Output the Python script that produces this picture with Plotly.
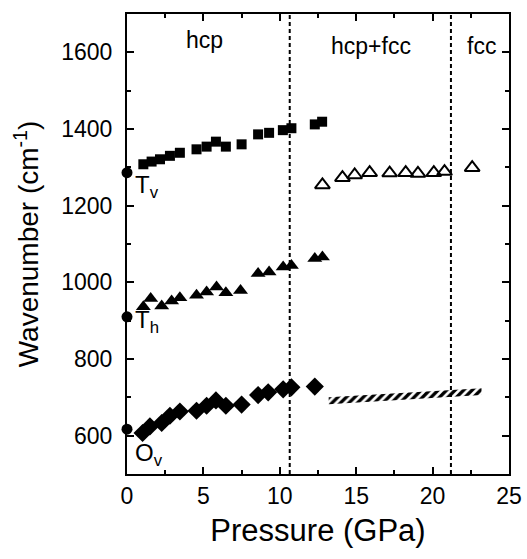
import plotly.graph_objects as go

# --- data ---
tv_p = [1.07, 1.61, 2.16, 2.81, 3.46, 4.55, 5.21, 5.82, 6.47, 7.5, 8.58, 9.3, 10.2, 10.76, 12.29, 12.77]
tv_w = [1308, 1315, 1321, 1330, 1338, 1347, 1354, 1367, 1354, 1360, 1386, 1390, 1397, 1402, 1412, 1419]

fcc_p = [12.79, 14.1, 14.9, 15.88, 17.19, 18.24, 19.04, 20.08, 20.78, 22.59]
fcc_w = [1254, 1273, 1280, 1286, 1285, 1286, 1284, 1286, 1289, 1299]

th_p = [1.07, 1.55, 2.27, 2.92, 3.46, 4.55, 5.21, 5.86, 6.47, 7.43, 8.58, 9.3, 10.22, 10.76, 12.29, 12.79]
th_w = [936, 958, 938, 951, 960, 966, 975, 988, 973, 979, 1023, 1027, 1040, 1044, 1062, 1066]

ov_p = [1.02, 1.5, 2.27, 2.81, 3.46, 4.55, 5.21, 5.82, 6.47, 7.5, 8.58, 9.24, 10.22, 10.76, 12.29]
ov_w = [607, 624, 633, 652, 663, 665, 678, 692, 678, 681, 706, 713, 721, 726, 728]

zero_p = [0, 0, 0]
zero_w = [1286, 910, 617]

band_p = [13.2, 23.2]
band_low = [682, 706]
band_high = [700, 724]

boundaries = [10.65, 21.2]

mode_labels = ["T<sub>v</sub>", "T<sub>h</sub>", "O<sub>v</sub>"]
mode_label_p = [0.4, 0.4, 0.4]
mode_label_w = [1250, 898, 550]

phase_labels = ["hcp", "hcp+fcc", "fcc"]
phase_label_p = [5.1, 16.0, 23.2]
phase_label_w = [1632, 1616, 1616]

x_ticks = [0, 5, 10, 15, 20, 25]
y_ticks = [600, 800, 1000, 1200, 1400, 1600]

FONT = "Liberation Sans, Arial, sans-serif"

fig = go.Figure()

# hatched band
fig.add_trace(go.Scatter(
    x=band_p + band_p[::-1], y=band_low + band_high[::-1],
    mode="lines", fill="toself", line=dict(width=0, color="rgba(0,0,0,0)"),
    fillcolor="white",
    fillpattern=dict(shape="/", fgcolor="black", bgcolor="white", fgopacity=1, size=6, solidity=0.55),
    hoverinfo="skip", showlegend=False))

fig.add_trace(go.Scatter(x=tv_p, y=tv_w, mode="markers",
                         marker=dict(symbol="square", size=10, color="black"), showlegend=False))
fig.add_trace(go.Scatter(x=fcc_p, y=fcc_w, mode="markers",
                         marker=dict(symbol="triangle-up-open", size=13, color="black",
                                     line=dict(width=2, color="black")), showlegend=False))
fig.add_trace(go.Scatter(x=th_p, y=th_w, mode="markers",
                         marker=dict(symbol="triangle-up", size=13, color="black"), showlegend=False))
fig.add_trace(go.Scatter(x=ov_p, y=ov_w, mode="markers",
                         marker=dict(symbol="diamond", size=14, color="black"), showlegend=False))
fig.add_trace(go.Scatter(x=zero_p, y=zero_w, mode="markers", cliponaxis=False,
                         marker=dict(symbol="circle", size=11, color="black"), showlegend=False))

for b in boundaries:
    fig.add_shape(type="line", x0=b, x1=b, y0=0, y1=1, xref="x", yref="paper",
                  line=dict(color="black", width=2, dash="4px,3px"))

for t, x, y in zip(mode_labels, mode_label_p, mode_label_w):
    fig.add_annotation(x=x, y=y, text=t, showarrow=False, xanchor="left", yanchor="middle",
                       font=dict(family=FONT, size=24, color="black"))
for t, x, y in zip(phase_labels, phase_label_p, phase_label_w):
    fig.add_annotation(x=x, y=y, text=t, showarrow=False, xanchor="center", yanchor="middle",
                       font=dict(family=FONT, size=23, color="black"))

axis_common = dict(showgrid=False, zeroline=False, showline=True, linecolor="black", linewidth=2,
                   mirror="ticks", ticks="inside", ticklen=7, tickwidth=1.5, tickcolor="black",
                   tickfont=dict(family=FONT, size=23, color="black"))

fig.update_xaxes(range=[0, 25], tickvals=x_ticks, ticktext=[str(v) for v in x_ticks],
                 minor=dict(dtick=2.5, tick0=0, ticks="inside", ticklen=4, tickwidth=1.5, tickcolor="black"),
                 title=dict(text="Pressure (GPa)", font=dict(family=FONT, size=31, color="black"), standoff=12),
                 **axis_common)
fig.update_yaxes(range=[500, 1700], tickvals=y_ticks, ticktext=[str(v) for v in y_ticks],
                 minor=dict(dtick=100, tick0=500, ticks="inside", ticklen=4, tickwidth=1.5, tickcolor="black"),
                 ticklabelstandoff=8,
                 title=dict(text="Wavenumber (cm<sup>-1</sup>)", font=dict(family=FONT, size=28, color="black"), standoff=14),
                 **axis_common)

fig.update_layout(width=527, height=559, plot_bgcolor="white", paper_bgcolor="white",
                  margin=dict(l=127, r=18, t=14, b=85, autoexpand=False),
                  font=dict(family=FONT, color="black"))

fig.write_html("out.html", config={"displayModeBar": False},
               post_script="document.body.style.margin='0';document.body.style.overflow='hidden';")
